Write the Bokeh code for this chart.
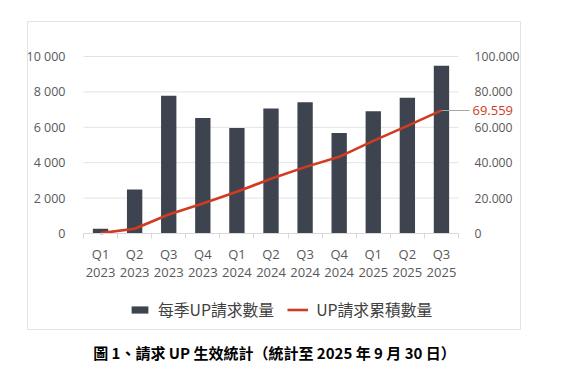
from bokeh.plotting import figure
from bokeh.models import (Range1d, LinearAxis, FixedTicker, Legend, LegendItem,
                          ColumnDataSource, Title)
from bokeh.embed import file_html
from bokeh.resources import INLINE

quarters = ["Q1\n2023", "Q2\n2023", "Q3\n2023", "Q4\n2023", "Q1\n2024", "Q2\n2024",
            "Q3\n2024", "Q4\n2024", "Q1\n2025", "Q2\n2025", "Q3\n2025"]
per_quarter = [270, 2490, 7780, 6520, 5960, 7060, 7420, 5680, 6900, 7670, 9480]
cumulative = [200, 2700, 10700, 16900, 23600, 30900, 37500, 43300, 52300, 60800, 69559]
left_ticks = [0, 2000, 4000, 6000, 8000, 10000]
left_labels = ["0", "2 000", "4 000", "6 000", "8 000", "10 000"]
right_ticks = [0, 20000, 40000, 60000, 80000, 100000]
right_labels = ["0", "20.000", "40.000", "60.000", "80.000", "100.000"]
series_names = ["每季UP請求數量", "UP請求累積數量"]
last_label = "69.559"
caption = "圖 1、請求 UP 生效統計（統計至 2025 年 9 月 30 日）"

FONT = "Open Sans"
GRAY = "#595959"
BAR = "#3d4450"
RED = "#d13b22"
BOX = "#e3e3e3"

# layout in pixels: the frame is the light box; the plotting area sits inside it
BW, BH = 494, 308          # box size
PL, PR = 56, 431           # plotting area left / right inside the box
PT, PB = 35, 212           # plotting area top / bottom inside the box
n = len(quarters)
ppx = (PR - PL) / n
x_lo = -0.5 - PL / ppx
x_hi = n - 0.5 + (BW - PR) / ppx
ymax_l, ymax_r = left_ticks[-1], right_ticks[-1]
ppy = (PB - PT) / ymax_l
y_lo = -(BH - PB) / ppy
y_hi = ymax_l + PT / ppy
k = ymax_r / ymax_l

xs = list(range(n))
src = ColumnDataSource(dict(x=xs, bar=per_quarter, cum=cumulative))

p = figure(width=BW, height=BH + 54, output_backend="svg", toolbar_location=None,
           x_range=Range1d(x_lo, x_hi), y_range=Range1d(y_lo, y_hi),
           x_axis_location=None, y_axis_location=None,
           min_border_left=0, min_border_right=0, min_border_top=0, min_border_bottom=54,
           margin=(21, 0, 0, 27))
p.extra_y_ranges = {"right": Range1d(y_lo * k, y_hi * k)}
p.outline_line_color = BOX
p.outline_line_width = 1
p.background_fill_color = "white"
p.border_fill_color = "white"
p.grid.visible = False

# horizontal grid lines over the category span
p.segment(x0=[-0.5] * len(left_ticks), x1=[n - 0.5] * len(left_ticks), y0=left_ticks,
          y1=left_ticks, line_color=BOX, line_width=1)


def style_axis(ax, color=GRAY, size="12.5px"):
    ax.axis_line_color = None
    ax.major_tick_line_color = None
    ax.minor_tick_line_color = None
    ax.major_label_text_font = FONT
    ax.major_label_text_font_size = size
    ax.major_label_text_color = color


la = LinearAxis(ticker=FixedTicker(ticks=left_ticks, minor_ticks=[]), fixed_location=-0.5)
la.major_label_overrides = {t: s for t, s in zip(left_ticks, left_labels)}
style_axis(la)
la.major_label_standoff = 12
p.add_layout(la, "left")

ra = LinearAxis(y_range_name="right", ticker=FixedTicker(ticks=right_ticks, minor_ticks=[]),
                fixed_location=n - 0.5)
ra.major_label_overrides = {t: s for t, s in zip(right_ticks, right_labels)}
style_axis(ra, size="12.2px")
ra.major_label_standoff = 10
p.add_layout(ra, "right")

xa = LinearAxis(ticker=FixedTicker(ticks=xs, minor_ticks=[i - 0.5 for i in range(n + 1)]),
                fixed_location=0, bounds=(-0.5, n - 0.5))
xa.major_label_overrides = {i: q for i, q in enumerate(quarters)}
style_axis(xa, size="13px")
xa.axis_line_color = "#d9d9d9"
xa.minor_tick_line_color = "#d9d9d9"
xa.minor_tick_in = 0
xa.minor_tick_out = 5
xa.major_label_standoff = 5
xa.major_label_text_line_height = 1.05
p.add_layout(xa, "below")

bars = p.vbar(x="x", top="bar", width=0.45, source=src, fill_color=BAR, line_color=None)
line = p.line(x="x", y="cum", source=src, y_range_name="right", line_color=RED, line_width=2.6)

# last cumulative value: an axis pinned at the last point, its tick is the leader line
lab = LinearAxis(y_range_name="right", ticker=FixedTicker(ticks=[cumulative[-1]], minor_ticks=[]),
                 fixed_location=xs[-1])
lab.major_label_overrides = {cumulative[-1]: last_label}
style_axis(lab, RED, size="13px")
lab.major_tick_line_color = "#a6a6a6"
lab.major_tick_line_width = 1
lab.major_tick_in = 0
lab.major_tick_out = 28
lab.major_label_standoff = 3
p.add_layout(lab, "right")

legend = Legend(items=[LegendItem(label=series_names[0], renderers=[bars]),
                       LegendItem(label=series_names[1], renderers=[line])],
                orientation="horizontal", location=(102, 8), glyph_width=21, glyph_height=9,
                label_standoff=8, spacing=13, padding=0, margin=0, border_line_color=None,
                background_fill_alpha=0,
                label_text_font="Noto Sans CJK TC", label_text_font_size="15.8px",
                label_text_color="#404040")
p.add_layout(legend, "center")

p.add_layout(Title(text=caption, align="center", offset=-3, standoff=20,
                   text_font="Noto Sans CJK TC", text_font_style="bold",
                   text_font_size="15px", text_color="black"), "below")

open("out.html", "w").write(file_html(p, INLINE))
